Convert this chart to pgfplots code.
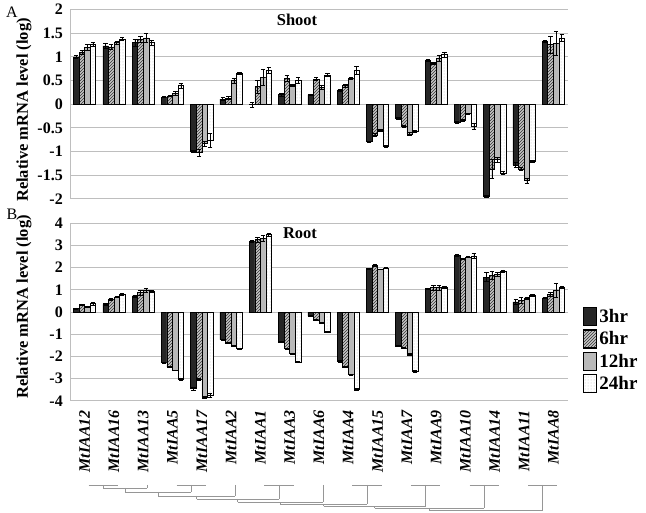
\documentclass[border=0pt]{standalone}
\usepackage{fontspec}
\setmainfont{Liberation Serif}
\usepackage{pgfplots}
\pgfplotsset{compat=1.18}
\usepackage{pgfplotstable}
\usetikzlibrary{patterns}

\definecolor{gridgray}{RGB}{190,190,190}
\definecolor{dendro}{RGB}{150,150,150}
\newcommand{\fs}[1]{\fontsize{#1}{#1}\selectfont}

% columns: gene index, then value/error for 3hr, 6hr, 12hr, 24hr
\pgfplotstableread{
x  a     ea   b     eb   c     ec   d     ed
0  1.00  .03  1.09  .04  1.20  .06  1.26  .04
1  1.23  .05  1.21  .05  1.30  .03  1.38  .03
2  1.30  .07  1.37  .07  1.40  .10  1.30  .05
3  0.15  .01  0.17  .01  0.23  .04  0.39  .05
4  -1.00 .02  -1.02 .07  -0.83 .05  -0.76 .14
5  0.11  .03  0.13  .03  0.50  .05  0.66  .02
6  -0.01 .06  0.37  .14  0.56  .17  0.72  .07
7  0.20  .03  0.55  .06  0.40  .03  0.50  .06
8  0.20  .02  0.53  .03  0.36  .05  0.62  .03
9  0.30  .02  0.39  .03  0.55  .02  0.72  .08
10 -0.79 .01  -0.65 .03  -0.55 .02  -0.89 .02
11 -0.29 .02  -0.47 .02  -0.63 .03  -0.58 .02
12 0.93  .02  0.86  .02  0.97  .07  1.05  .05
13 -0.39 .02  -0.34 .03  -0.20 .01  -0.46 .06
14 -1.94 .02  -1.37 .20  -1.17 .05  -1.45 .03
15 -1.28 .05  -1.37 .03  -1.61 .05  -1.20 .02
16 1.32  .02  1.26  .18  1.28  .25  1.40  .07
}\shoot

\pgfplotstableread{
x  a     ea   b     eb   c     ec   d     ed
0  0.15  .03  0.34  .02  0.25  .02  0.37  .05
1  0.34  .03  0.57  .03  0.67  .02  0.79  .03
2  0.72  .05  0.87  .10  0.97  .10  0.93  .05
3  -2.28 .02  -2.47 .02  -2.62 .02  -3.03 .05
4  -3.45 .05  -3.03 .05  -3.82 .05  -3.75 .10
5  -1.24 .02  -1.39 .02  -1.53 .02  -1.65 .02
6  3.19  .05  3.25  .10  3.31  .15  3.47  .05
7  -1.35 .03  -1.65 .03  -1.87 .03  -2.25 .03
8  -0.18 .02  -0.37 .02  -0.50 .02  -0.90 .03
9  -2.22 .03  -2.47 .03  -2.82 .03  -3.48 .03
10 1.95  .03  2.10  .05  1.92  .02  1.98  .03
11 -1.53 .03  -1.62 .03  -1.90 .03  -2.65 .05
12 1.05  .03  1.09  .10  1.09  .10  1.12  .05
13 2.55  .03  2.40  .03  2.47  .03  2.52  .10
14 1.57  .20  1.65  .20  1.69  .10  1.84  .05
15 0.45  .10  0.52  .15  0.63  .05  0.75  .05
16 0.63  .03  0.79  .10  0.97  .30  1.12  .05
}\root

\pgfplotsset{
  panel/.style={
    scale only axis, width=498pt,
    ybar, bar width=0.19,
    xmin=-0.5, xmax=16.5,
    axis x line*=bottom, axis y line*=left,
    x axis line style={draw=none},
    y axis line style={draw=gridgray, line width=1pt, -},
    ymajorgrids, grid style={gridgray, line width=1pt},
    major tick length=0pt,
    tick label style={inner sep=0pt},
    yticklabel style={font=\fs{16}\bfseries, xshift=-7pt},
    yticklabel={\bfseries\pgfmathprintnumber{\tick}},
    /pgf/number format/assume math mode=true,
    legend image code/.code={\draw[##1, line width=1.3pt] (0pt,-9pt) rectangle (13pt,9pt);},
    clip=false,
  },
  err/.style={error bars/.cd, y dir=both, y explicit,
    error bar style={black, line width=0.6pt},
    error mark options={rotate=90, black, mark size=2.2pt, line width=0.6pt}},
  s3/.style={draw=black, line width=0.6pt, fill=black!85, bar shift=-0.285},
  s6/.style={draw=black, line width=0.6pt, fill=gray!45,
    postaction={pattern=north east lines, pattern color=black!80}, bar shift=-0.095},
  s12/.style={draw=black, line width=0.6pt, fill=gray!55, bar shift=0.095},
  s24/.style={draw=black, line width=0.6pt, fill=white,
    postaction={pattern=dots, pattern color=gray!50}, bar shift=0.285},
}

\begin{document}
\begin{tikzpicture}[x=1pt, y=1pt]
\useasboundingbox (0,0) rectangle (646,512);

% Shoot
\begin{axis}[panel, at={(70pt,313pt)}, anchor=south west, height=189.5pt,
  ymin=-2, ymax=2, ytick={-2,-1.5,...,2}, xtick=\empty]
  \addplot[s3, err] table[x=x, y=a, y error=ea] {\shoot};
  \addplot[s6, err] table[x=x, y=b, y error=eb] {\shoot};
  \addplot[s12, err] table[x=x, y=c, y error=ec] {\shoot};
  \addplot[s24, err] table[x=x, y=d, y error=ed] {\shoot};
\end{axis}

% Root
\begin{axis}[panel, at={(70pt,111pt)}, anchor=south west, height=178pt,
  ymin=-4, ymax=4, ytick={-4,-3,...,4},
  xtick={0,...,16},
  xticklabels={MtIAA12,MtIAA16,MtIAA13,MtIAA5,MtIAA17,MtIAA2,MtIAA1,MtIAA3,MtIAA6,MtIAA4,MtIAA15,MtIAA7,MtIAA9,MtIAA10,MtIAA14,MtIAA11,MtIAA8},
  xticklabel style={rotate=90, anchor=east, font=\fs{16}\bfseries\itshape},
  xticklabel shift=9pt,
  legend style={at={(1.024,0.54)}, anchor=north west, draw=none, fill=none,
    font=\fs{19}\bfseries, row sep=3pt, cells={anchor=west}},
  legend cell align=left]
  \addplot[s3, err] table[x=x, y=a, y error=ea] {\root};
  \addplot[s6, err] table[x=x, y=b, y error=eb] {\root};
  \addplot[s12, err] table[x=x, y=c, y error=ec] {\root};
  \addplot[s24, err] table[x=x, y=d, y error=ed] {\root};
  \legend{3hr,6hr,12hr,24hr}
\end{axis}

% annotations, in image pixel coordinates (y downward)
\begin{scope}[yshift=512pt, yscale=-1]
  \node[font=\fs{16}] at (12,12) {A};
  \node[font=\fs{16}] at (12,214) {B};
  \node[font=\fs{16.5}\bfseries, rotate=90] at (24,110) {Relative mRNA level (log)};
  \node[font=\fs{16.5}\bfseries, rotate=90] at (24,307) {Relative mRNA level (log)};
  \node[font=\fs{16.5}\bfseries] at (297,20) {Shoot};
  \node[font=\fs{16.5}\bfseries] at (300,233) {Root};

  % dendrogram
  \begin{scope}[dendro, line width=0.9pt]
    \draw (88.6,485) -- (118,485);
    \draw (103.3,485) -- (103.3,488) (147.2,485) -- (147.2,488) (103.3,488) -- (147.2,488);
    \draw (176.5,485) -- (205.8,485);
    \draw (125.3,488) -- (125.3,492) (191.2,485) -- (191.2,492) (125.3,492) -- (191.2,492);
    \draw (158.2,492) -- (158.2,496) (235.1,485) -- (235.1,496) (158.2,496) -- (235.1,496);
    \draw (264.4,485) -- (293.7,485);
    \draw (196.7,496) -- (196.7,499) (279,485) -- (279,499) (196.7,499) -- (279,499);
    \draw (237.9,499) -- (237.9,502) (323,485) -- (323,502) (237.9,502) -- (323,502);
    \draw (352.3,485) -- (381.6,485);
    \draw (280.4,502) -- (280.4,504) (367,485) -- (367,504) (280.4,504) -- (367,504);
    \draw (410.9,485) -- (440.2,485);
    \draw (323.7,504) -- (323.7,506) (425.6,485) -- (425.6,506) (323.7,506) -- (425.6,506);
    \draw (469.5,485) -- (498.8,485);
    \draw (374.6,506) -- (374.6,508) (484.2,485) -- (484.2,508) (374.6,508) -- (484.2,508);
    \draw (528.1,485) -- (557.4,485);
    \draw (429.4,508) -- (429.4,510) (542.8,485) -- (542.8,510) (429.4,510) -- (542.8,510);
  \end{scope}
\end{scope}
\end{tikzpicture}
\end{document}
